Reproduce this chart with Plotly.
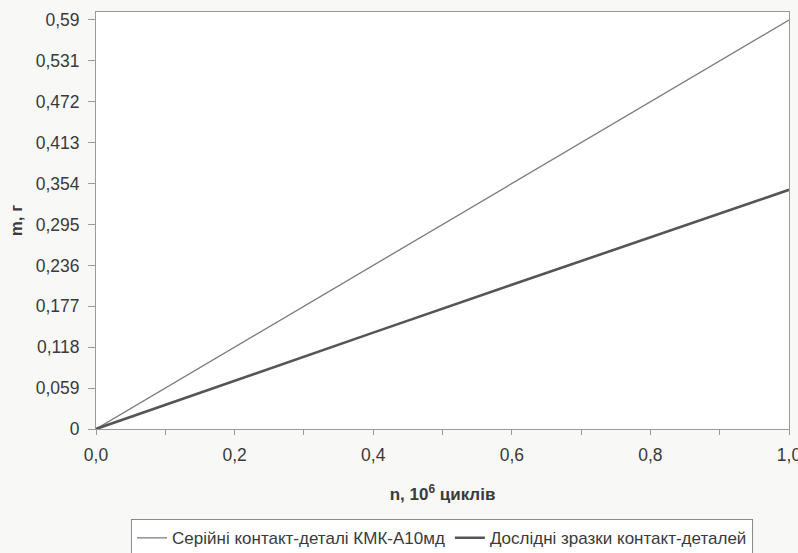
import plotly.graph_objects as go

# Number of cycles, 10^6
n_cycles = [0.0, 0.2, 0.4, 0.6, 0.8, 1.0]

# Wear mass, g
serial_mass = [0.0, 0.118, 0.236, 0.354, 0.472, 0.59]
experimental_mass = [0.0, 0.070, 0.139, 0.208, 0.277, 0.345]

series_names = [
    "Серійні контакт-деталі КМК-А10мд",
    "Дослідні зразки контакт-деталей",
]

y_tick_vals = [0, 0.059, 0.118, 0.177, 0.236, 0.295, 0.354, 0.413, 0.472, 0.531, 0.59]
y_tick_text = ["0", "0,059", "0,118", "0,177", "0,236", "0,295", "0,354",
               "0,413", "0,472", "0,531", "0,59"]
x_tick_vals = [0.0, 0.2, 0.4, 0.6, 0.8, 1.0]
x_tick_text = ["0,0", "0,2", "0,4", "0,6", "0,8", "1,0"]

FONT = "Liberation Sans, Arial, sans-serif"
TEXT = "#3a3a3a"
AXIS = "#9a9a9a"

fig = go.Figure()
fig.add_trace(go.Scatter(
    x=n_cycles, y=serial_mass, mode="lines", name=series_names[0],
    line=dict(color="#7a7a7a", width=1.3),
))
fig.add_trace(go.Scatter(
    x=n_cycles, y=experimental_mass, mode="lines", name=series_names[1],
    line=dict(color="#555555", width=2.6),
))

fig.update_layout(
    width=798, height=553,
    margin=dict(l=96, r=9, t=12, b=124, autoexpand=False),
    paper_bgcolor="#f8f8f7",
    plot_bgcolor="#ffffff",
    font=dict(family=FONT, size=17, color=TEXT),
    showlegend=True,
    legend=dict(
        orientation="h",
        xref="container", x=0.554, xanchor="center",
        yref="container", y=0.061, yanchor="top",
        bgcolor="#ffffff", bordercolor="#8a8a8a", borderwidth=1,
        font=dict(family=FONT, size=17, color=TEXT),
        itemwidth=30, tracegroupgap=0,
    ),
    xaxis=dict(
        range=[0, 1.0], tickvals=x_tick_vals, ticktext=x_tick_text,
        showgrid=False, zeroline=False, automargin=False,
        showline=True, linecolor=AXIS, linewidth=1, mirror=True,
        ticks="outside", ticklen=5, tickcolor=AXIS,
        minor=dict(tickvals=[0.1, 0.3, 0.5, 0.7, 0.9], ticks="outside",
                   ticklen=5, tickcolor=AXIS),
        tickfont=dict(size=17.5, color=TEXT),
        ticklabelstandoff=5, ticklabeloverflow="allow",
        title=dict(text="<b>n, 10<sup>6</sup> циклів</b>",
                   font=dict(size=17, color=TEXT), standoff=24),
    ),
    yaxis=dict(
        range=[0, 0.6015], tickvals=y_tick_vals, ticktext=y_tick_text,
        showgrid=False, zeroline=False, automargin=False,
        showline=True, linecolor=AXIS, linewidth=1, mirror=True,
        ticks="outside", ticklen=7, tickcolor=AXIS,
        tickfont=dict(size=17.5, color=TEXT),
        ticklabelstandoff=5, ticklabeloverflow="allow",
        title=dict(text="<b>m, г</b>", font=dict(size=17, color=TEXT), standoff=8),
    ),
)

fig.write_html("out.html")
